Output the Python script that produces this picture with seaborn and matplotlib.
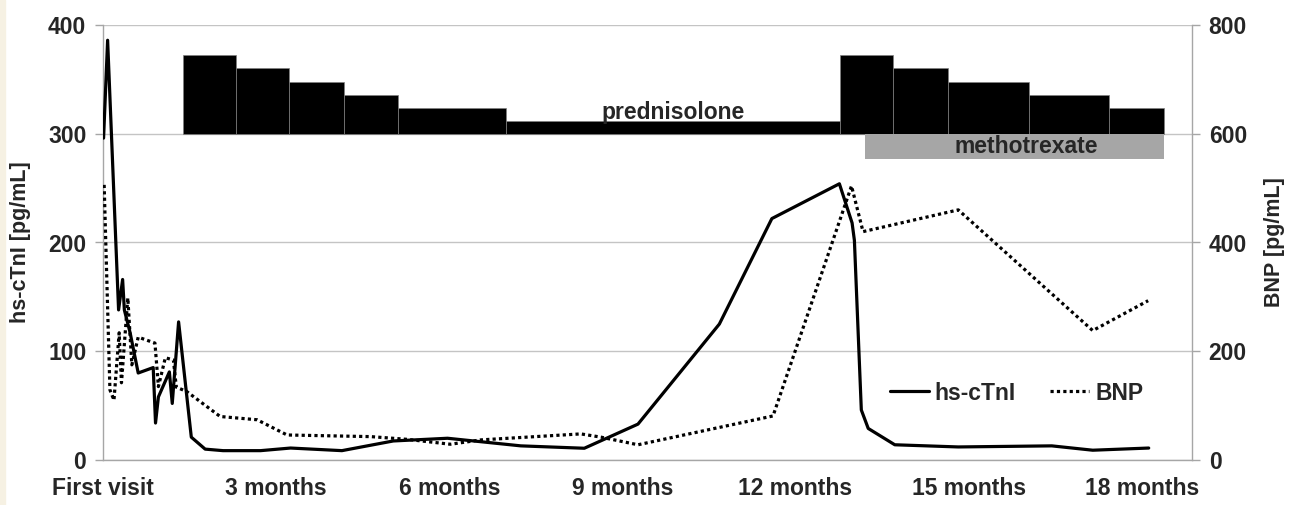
import matplotlib
matplotlib.use("Agg")
import matplotlib.pyplot as plt
from matplotlib.lines import Line2D
from matplotlib.patches import Rectangle
import pandas as pd
import seaborn as sns

# time in months after the first visit
tni_months = [0.01, 0.08, 0.27, 0.34, 0.37, 0.47, 0.61, 0.87, 0.91, 0.96, 1.15, 1.20,
              1.31, 1.53, 1.77, 2.08, 2.73, 3.25, 4.14, 5.03, 5.97, 7.24, 8.34, 9.27,
              10.68, 11.59, 12.76, 12.98, 13.02, 13.14, 13.26, 13.72, 14.82, 16.44,
              17.15, 18.12]
tni_values = [296, 386, 138, 166, 138, 117, 80, 85, 34, 58, 81, 52,
              127, 21, 10, 8.6, 8.6, 11, 8.6, 17.5, 20, 13, 10.8, 33,
              125, 222, 254, 218, 202, 46, 29, 14, 12, 13,
              9, 11]

bnp_months = [0.02, 0.12, 0.19, 0.28, 0.32, 0.43, 0.50, 0.61, 0.90, 0.96, 1.08, 1.22,
              1.27, 1.45, 2.03, 2.67, 3.19, 4.64, 5.27, 6.02, 6.55, 8.28, 8.63, 9.27,
              11.61, 12.97, 13.17, 14.82, 17.15, 18.11]
bnp_values = [506, 129, 110, 234, 142, 298, 175, 226, 215, 135, 188, 184,
              134, 126, 80, 74, 46, 43, 38, 29, 37, 48, 42, 28,
              81, 504, 420, 460, 238, 293]

# prednisolone tapering steps (drawn as bar height above the 300 line)
pred_start = [1.38, 2.30, 3.23, 4.17, 5.11, 6.98, 12.77, 13.69, 14.64, 16.05, 17.44]
pred_end = [2.30, 3.23, 4.17, 5.11, 6.98, 12.77, 13.69, 14.64, 16.05, 17.44, 18.38]
pred_dose = [72, 60, 48, 36, 24, 12, 72, 60, 48, 36, 24]

mtx_start = 13.2
mtx_end = 18.38

month_ticks = [0, 3, 6, 9, 12, 15, 18]
month_labels = ["First visit", "3 months", "6 months", "9 months",
                "12 months", "15 months", "18 months"]

tni_df = pd.DataFrame({"month": tni_months, "value": tni_values})
bnp_df = pd.DataFrame({"month": bnp_months, "value": bnp_values})

sns.set_style("white")
plt.rcParams["font.family"] = ["Liberation Sans", "DejaVu Sans"]
plt.rcParams["font.weight"] = "bold"

GRAY = "#a6a6a6"
FS = 16.5
LW = 2.3
DOTS = (0, (1, 1))

fig = plt.figure(figsize=(12.98, 5.05), dpi=100)
ax = fig.add_axes([103 / 1298, 45 / 505, 1089 / 1298, 435 / 505])
ax2 = ax.twinx()
fig.patches.append(Rectangle((0, 0), 5 / 1298, 1, transform=fig.transFigure,
                             color="#f6f1e3", zorder=-1))

# treatment bars
widths = [e - s for s, e in zip(pred_start, pred_end)]
ax.bar(pred_start, pred_dose, width=widths, bottom=300, align="edge",
       color="black", edgecolor="#808080", linewidth=0.5, zorder=2)
ax.bar([mtx_start], [23], width=[mtx_end - mtx_start], bottom=277, align="edge",
       color=GRAY, linewidth=0, zorder=2)
ax.text(9.88, 313.5, "prednisolone", ha="center", va="baseline",
        fontsize=FS, fontweight="bold", zorder=3)
ax.text((mtx_start + mtx_end) / 2 + 0.2, 288.5, "methotrexate", ha="center",
        va="center", fontsize=FS, fontweight="bold", zorder=3)

sns.lineplot(data=tni_df, x="month", y="value", ax=ax, color="black",
             linewidth=LW, zorder=4, legend=False)
sns.lineplot(data=bnp_df, x="month", y="value", ax=ax2, color="black",
             linewidth=LW, linestyle=DOTS, legend=False)

ax.set_xlim(0, 18.87)
ax.set_ylim(0, 400)
ax2.set_ylim(0, 800)
ax.set_yticks([0, 100, 200, 300, 400])
ax2.set_yticks([0, 200, 400, 600, 800])
ax.set_xticks(month_ticks)
ax.set_xticklabels(month_labels)

ax.yaxis.grid(True, color="#c4c4c4", linewidth=1)
ax.set_axisbelow(True)
ax.patch.set_visible(False)

for a in (ax, ax2):
    a.tick_params(axis="both", direction="out", length=6, width=1, color=GRAY,
                  labelsize=FS, pad=6)
    a.spines["top"].set_visible(False)
    for side in ("left", "bottom", "right"):
        a.spines[side].set_color(GRAY)
        a.spines[side].set_linewidth(1)
ax.spines["right"].set_visible(False)
ax2.spines["left"].set_visible(False)
ax2.spines["bottom"].set_visible(False)

ax.set_xlabel("")
ax.set_ylabel("hs-cTnI [pg/mL]", fontsize=15.5, fontweight="bold", labelpad=12)
ax2.set_ylabel("BNP [pg/mL]", fontsize=15.5, fontweight="bold", labelpad=12)

handles = [Line2D([], [], color="black", linewidth=LW),
           Line2D([], [], color="black", linewidth=LW, linestyle=DOTS)]
ax.legend(handles, ["hs-cTnI", "BNP"], loc="center", bbox_to_anchor=(0.839, 0.154),
          ncol=2, frameon=False, fontsize=FS, handlelength=1.7, handletextpad=0.25,
          columnspacing=1.5)

fig.savefig("out.png", dpi=100)
